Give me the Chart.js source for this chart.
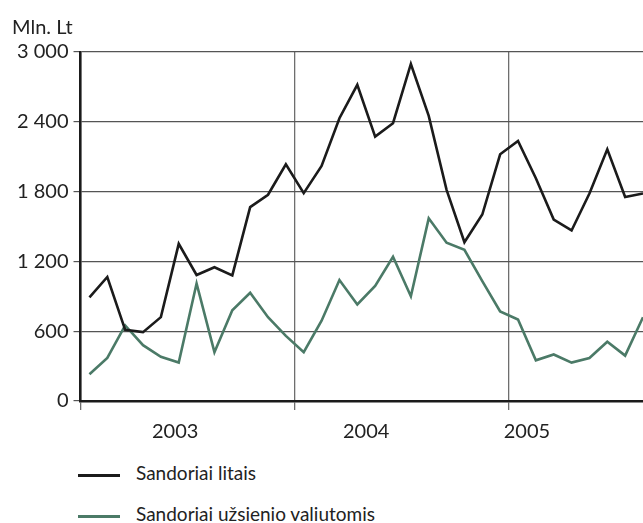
<!DOCTYPE html>
<html>
<head>
<meta charset="utf-8">
<script src="https://cdn.jsdelivr.net/npm/chart.js@4"></script>
<style>
  body { margin: 0; background: #fff; overflow: hidden; }
  #wrap { position: relative; width: 643px; height: 456px; }
  #legend { position: absolute; left: 0; top: 455px; font-family: Lato, sans-serif; font-size: 19px; color: #222; }
  .item { position: relative; height: 41px; }
  .item .swatch { position: absolute; left: 78px; width: 42px; height: 3px; }
  .item .txt { position: absolute; left: 136px; white-space: nowrap; }
</style>
</head>
<body>
<div id="wrap"><canvas id="myChart"></canvas></div>
<div id="legend"></div>
<script>
// monthly, Jan 2003 - Aug 2005
const months = [
  '2003-01', '2003-02', '2003-03', '2003-04', '2003-05', '2003-06', '2003-07', '2003-08', '2003-09', '2003-10', '2003-11', '2003-12',
  '2004-01', '2004-02', '2004-03', '2004-04', '2004-05', '2004-06', '2004-07', '2004-08', '2004-09', '2004-10', '2004-11', '2004-12',
  '2005-01', '2005-02', '2005-03', '2005-04', '2005-05', '2005-06', '2005-07', '2005-08'
];
const litais = [
  890, 1066, 612, 592, 721, 1351, 1083, 1150, 1080, 1667, 1773, 2034,
  1787, 2020, 2431, 2718, 2273, 2388, 2897, 2451, 1815, 1365, 1603, 2121,
  2236, 1915, 1560, 1466, 1784, 2164, 1753, 1784
];
const valiutomis = [
  230, 370, 650, 480, 380, 330, 1010, 420, 780, 930, 720, 560,
  420, 690, 1040, 830, 990, 1240, 900, 1570, 1360, 1300, 1030, 770,
  700, 350, 400, 330, 370, 510, 390, 720
];
const yearLabels = ['2003', '2004', '2005'];
const yearLabelAt = [4.8, 15.5, 24.5];   // where the year text sits (month index)
const yearBounds = [-0.5, 11.5, 23.5];

const seriesNames = ['Sandoriai litais', 'Sandoriai užsienio valiutomis'];
const seriesColors = ['#1b1b1b', '#4b7a67'];

const toPoints = arr => arr.map((v, i) => ({ x: i, y: v }));
const fmt = v => String(v).replace(/\B(?=(\d{3})+(?!\d))/g, ' ');

const data = {
  datasets: [litais, valiutomis].map((arr, k) => ({
    label: seriesNames[k],
    data: toPoints(arr),
    borderColor: seriesColors[k],
    borderWidth: 2.6,
    pointRadius: 0,
    tension: 0,
    fill: false
  }))
};

const font = { family: 'Lato, sans-serif', size: 20 };

const config = {
  type: 'line',
  data: data,
  options: {
    responsive: false,
    animation: false,
    layout: { padding: { left: 12, right: 0, top: 0, bottom: 2 } },
    plugins: {
      legend: { display: false },
      tooltip: { enabled: false },
      title: {
        display: true,
        text: 'Mln. Lt',
        align: 'start',
        color: '#222',
        font: { family: font.family, size: 20, weight: 'normal' },
        padding: { top: 16, bottom: 12 }
      }
    },
    scales: {
      x: {
        type: 'linear',
        min: -0.5,
        max: 31,
        afterBuildTicks: axis => {
          const t = yearBounds.map(v => ({ value: v, bound: true }));
          yearLabelAt.forEach((v, i) => t.push({ value: v, year: yearLabels[i] }));
          axis.ticks = t;
        },
        ticks: {
          autoSkip: false,
          maxRotation: 0,
          color: '#222',
          font: font,
          padding: 10,
          callback: function (v, i, ticks) { return ticks[i].year || ''; }
        },
        grid: {
          color: ctx => (ctx.tick && ctx.tick.bound) ? '#6e6e6e' : 'rgba(0,0,0,0)',
          lineWidth: 1.3,
          tickLength: 9
        },
        border: { color: '#1b1b1b', width: 2.5 }
      },
      y: {
        min: 0,
        max: 3000,
        ticks: {
          stepSize: 600,
          color: '#222',
          font: font,
          padding: 5,
          callback: v => fmt(v)
        },
        grid: { color: '#555', lineWidth: 1.2, tickLength: 7 },
        border: { color: '#1b1b1b', width: 2.5 }
      }
    }
  }
};

const canvas = document.getElementById('myChart');
canvas.width = 643;
canvas.height = 456;
const myChart = new Chart(canvas, config);

// legend, stacked like the original
const legend = document.getElementById('legend');
data.datasets.forEach(ds => {
  const row = document.createElement('div');
  row.className = 'item';
  const sw = document.createElement('span');
  sw.className = 'swatch';
  sw.style.background = ds.borderColor;
  sw.style.top = '19px';
  const tx = document.createElement('span');
  tx.className = 'txt';
  tx.style.top = '6px';
  tx.textContent = ds.label;
  row.appendChild(sw);
  row.appendChild(tx);
  legend.appendChild(row);
});
</script>
</body>
</html>
